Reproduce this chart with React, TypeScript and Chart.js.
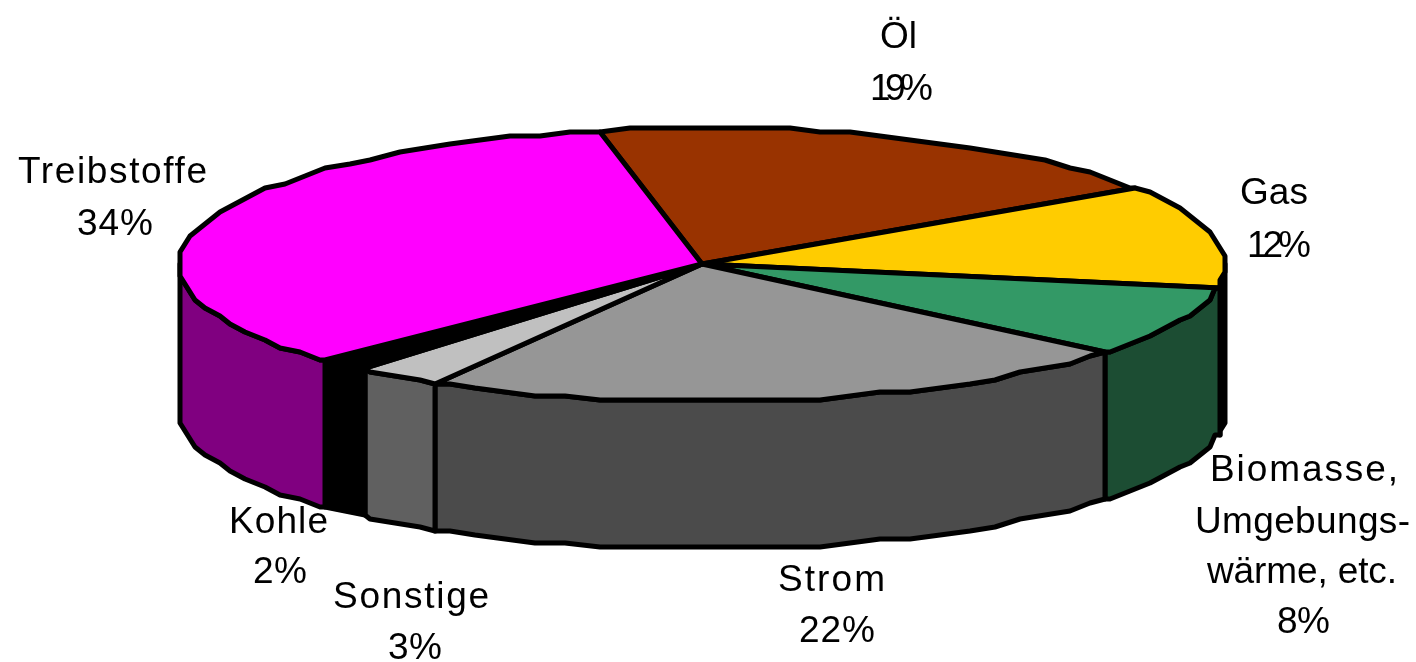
import React, { useEffect, useRef } from "react";
import { Chart, registerables } from "chart.js";

Chart.register(...registerables);

const categories = ["Öl", "Gas", "Biomasse, etc.", "Strom", "Sonstige", "Kohle", "Treibstoffe"];
const labelLines = [["Öl"], ["Gas"], ["Biomasse,", "Umgebungs-", "wärme, etc."], ["Strom"], ["Sonstige"], ["Kohle"], ["Treibstoffe"]];
const shares = [18.6, 12.0, 8.49, 22.4, 2.7, 1.75, 34.06];
const topColors = ["#993300", "#FFCC00", "#339966", "#969696", "#C0C0C0", "#000000", "#FF00FF"];
const wallColors = ["#4D1A00", "#000000", "#1C4D33", "#4B4B4B", "#606060", "#000000", "#800080"];

// [left, baseline, width] for every printed line, per category (last line = percentage)
const labelBoxes: number[][][] = [
  [[880, 48, 37], [870, 100, 63]],
  [[1240, 204, 68], [1247, 257, 64]],
  [[1210, 481, 188], [1195, 533, 215], [1207, 583, 190], [1277, 633, 53]],
  [[778, 591, 107], [799, 642, 76]],
  [[333, 608, 156], [388, 659, 54]],
  [[229, 533, 99], [253, 583, 54]],
  [[18, 183, 189], [77, 235, 76]],
];

const VIEW = { cx: 702, cy: 265, rx: 524, ry: 137, depth: 147, stepDeg: 3.5, gridX: 5, gridY: 4, line: 5 };
const FONT = '37px "Liberation Sans", Arial, sans-serif';

const project = (a: number, dy = 0) => {
  const x = VIEW.cx + VIEW.rx * Math.cos(a);
  const y = VIEW.cy + VIEW.ry * Math.sin(a);
  return [Math.round(x / VIEW.gridX) * VIEW.gridX, Math.round(y / VIEW.gridY) * VIEW.gridY + dy];
};

const samples = (from: number, to: number) => {
  const step = (VIEW.stepDeg * Math.PI) / 180;
  const out = [from];
  for (let k = Math.ceil(from / step + 1e-6); k * step < to - 1e-6; k++) out.push(k * step);
  out.push(to);
  return out;
};

const pie3d = {
  id: "pie3d",
  beforeDatasetDraw(chart: any) {
    const ctx = chart.ctx as CanvasRenderingContext2D;
    const arcs = chart.getDatasetMeta(0).data;
    ctx.save();
    ctx.lineJoin = "round";
    ctx.lineCap = "round";
    ctx.lineWidth = VIEW.line;
    ctx.strokeStyle = "#000000";

    const TAU = Math.PI * 2;
    arcs.forEach((arc: any, i: number) => {
      let s = arc.startAngle % TAU;
      if (s < 0) s += TAU;
      const e = s + (arc.endAngle - arc.startAngle);
      for (const [lo, hi] of [[0, Math.PI], [TAU, TAU + Math.PI]]) {
        const a = Math.max(s, lo);
        const b = Math.min(e, hi);
        if (b <= a) continue;
        const pts = samples(a, b);
        ctx.beginPath();
        pts.forEach((t, k) => {
          const [x, y] = project(t);
          k ? ctx.lineTo(x, y) : ctx.moveTo(x, y);
        });
        [...pts].reverse().forEach((t) => {
          const [x, y] = project(t, VIEW.depth);
          ctx.lineTo(x, y);
        });
        ctx.closePath();
        ctx.fillStyle = wallColors[i];
        ctx.fill();
        ctx.stroke();
      }
    });

    arcs.forEach((arc: any, i: number) => {
      ctx.beginPath();
      ctx.moveTo(VIEW.cx, VIEW.cy - 1);
      samples(arc.startAngle, arc.endAngle).forEach((t) => {
        const [x, y] = project(t);
        ctx.lineTo(x, y);
      });
      ctx.closePath();
      ctx.fillStyle = topColors[i];
      ctx.fill();
      ctx.stroke();
    });
    ctx.restore();
    return false;
  },
  afterDraw(chart: any) {
    const ctx = chart.ctx as any;
    ctx.save();
    ctx.font = FONT;
    ctx.fillStyle = "#000000";
    ctx.textAlign = "left";
    ctx.textBaseline = "alphabetic";
    labelBoxes.forEach((boxes, i) => {
      const lines = [...labelLines[i], `${Math.round(shares[i])}%`];
      lines.forEach((text, j) => {
        const [left, base, width] = boxes[j];
        ctx.letterSpacing = "0px";
        const natural = ctx.measureText(text).width;
        const gaps = Math.max(1, text.length - 1);
        ctx.letterSpacing = `${(width - natural) / gaps}px`;
        ctx.fillText(text, left, base);
      });
    });
    ctx.restore();
  },
};

export default function App() {
  const ref = useRef<HTMLCanvasElement>(null);
  useEffect(() => {
    const chart = new Chart(ref.current!, {
      type: "pie",
      data: {
        labels: categories,
        datasets: [{ data: shares, backgroundColor: topColors, borderWidth: 0 }],
      },
      options: {
        responsive: false,
        animation: false,
        rotation: -11,
        plugins: { legend: { display: false }, tooltip: { enabled: false } },
      },
      plugins: [pie3d],
    } as any);
    return () => chart.destroy();
  }, []);
  return (
    <div style={{ position: "absolute", left: 0, top: 0, width: 1416, height: 662, background: "#fff" }}>
      <canvas ref={ref} width={1416} height={662} style={{ display: "block" }} />
    </div>
  );
}
